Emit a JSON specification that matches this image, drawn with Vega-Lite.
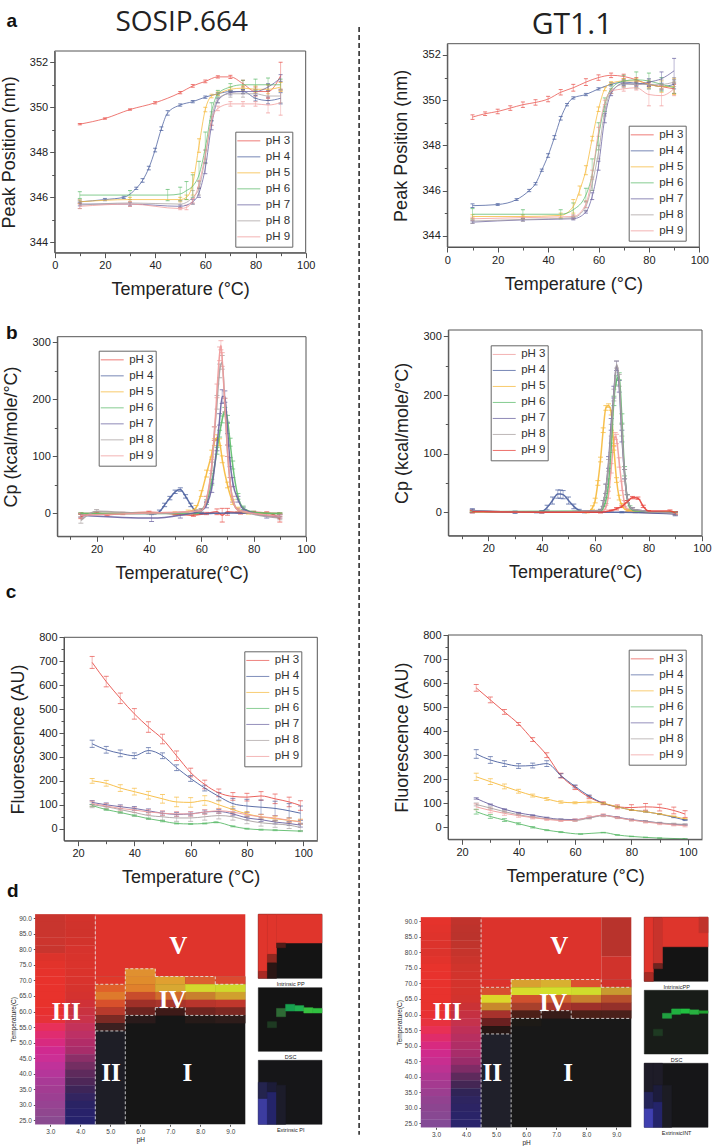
{"$schema":"https://vega.github.io/schema/vega-lite/v6.json","width":714,"height":1146,"padding":0,"autosize":{"type":"none"},"background":"white",
"config":{"view":{"stroke":null},"range":{"category":["#e8504a","#4a5f9e","#f6b93b","#5dbb6c","#6a62a0","#a8a0a0","#f09a9a"]},
"axis":{"grid":false,"labelOverlap":false,"labelFlush":false,"labelFont":"Liberation Sans","labelFontSize":11,"labelColor":"#222","titleFont":"Liberation Sans","titleFontSize":18,"titleFontWeight":"normal","titleColor":"#222","domainColor":"#555","tickColor":"#555","labelPadding":2},"axisX":{"titlePadding":10},"axisY":{"titlePadding":11},
"legend":{"symbolType":"stroke","symbolSize":529,"clipHeight":15.3,"rowPadding":0,"labelFont":"Liberation Sans","labelFontSize":11.5,"labelColor":"#333","strokeColor":"#666","fillColor":"white","padding":1.5,"labelOffset":5,"symbolStrokeWidth":1,"title":null}},
"resolve":{"scale":{"x":"independent","y":"independent","color":"independent"},"axis":{"x":"independent","y":"independent"},"legend":{"color":"independent"}},
"layer":[
{"data":{"values":[
{"p":3,"t":10,"v":349.25,"e":0.03},{"p":3,"t":20,"v":349.5,"e":0.03},{"p":3,"t":30,"v":349.9,"e":0.03},{"p":3,"t":40,"v":350.2,"e":0.05},{"p":3,"t":50,"v":350.65,"e":0.05},{"p":3,"t":55,"v":350.95,"e":0.06},{"p":3,"t":60,"v":351.15,"e":0.06},{"p":3,"t":65,"v":351.35,"e":0.05},{"p":3,"t":70,"v":351.35,"e":0.07},{"p":3,"t":75,"v":351.05,"e":0.15},{"p":3,"t":80,"v":350.7,"e":0.2},{"p":3,"t":85,"v":350.7,"e":0.3},{"p":3,"t":90,"v":351.4,"e":0.6},
{"p":4,"t":10,"v":345.8,"e":0.08},{"p":4,"t":20,"v":345.9,"e":0.05},{"p":4,"t":27.5,"v":346,"e":0.05},{"p":4,"t":32.5,"v":346.4,"e":0.05},{"p":4,"t":35,"v":346.75,"e":0.08},{"p":4,"t":37.5,"v":347.3,"e":0.08},{"p":4,"t":40,"v":348.1,"e":0.08},{"p":4,"t":42.5,"v":349.05,"e":0.08},{"p":4,"t":45,"v":349.75,"e":0.1},{"p":4,"t":50,"v":350.1,"e":0.05},{"p":4,"t":55,"v":350.25,"e":0.05},{"p":4,"t":60,"v":350.45,"e":0.05},{"p":4,"t":65,"v":350.6,"e":0.05},{"p":4,"t":70,"v":350.7,"e":0.05},{"p":4,"t":75,"v":350.7,"e":0.08},{"p":4,"t":80,"v":350.4,"e":0.12},{"p":4,"t":85,"v":350.3,"e":0.15},{"p":4,"t":90,"v":350.4,"e":0.25},
{"p":5,"t":10,"v":345.8,"e":0.08},{"p":5,"t":30,"v":345.9,"e":0.1},{"p":5,"t":50,"v":345.9,"e":0.1},{"p":5,"t":52.5,"v":346,"e":0.1},{"p":5,"t":55,"v":346.6,"e":0.5},{"p":5,"t":57.5,"v":348.3,"e":0.3},{"p":5,"t":60,"v":349.9,"e":0.1},{"p":5,"t":62.5,"v":350.5,"e":0.08},{"p":5,"t":65,"v":350.6,"e":0.08},{"p":5,"t":70,"v":350.8,"e":0.1},{"p":5,"t":75,"v":350.85,"e":0.1},{"p":5,"t":80,"v":350.8,"e":0.15},{"p":5,"t":85,"v":350.8,"e":0.2},{"p":5,"t":90,"v":350.9,"e":0.2},
{"p":6,"t":10,"v":346.1,"e":0.15},{"p":6,"t":30,"v":346.1,"e":0.2},{"p":6,"t":45,"v":346.1,"e":0.25},{"p":6,"t":50,"v":346.15,"e":0.3},{"p":6,"t":52.5,"v":346.3,"e":0.4},{"p":6,"t":55,"v":346.5,"e":0.5},{"p":6,"t":57.5,"v":347,"e":0.6},{"p":6,"t":60,"v":348.2,"e":0.7},{"p":6,"t":62.5,"v":349.8,"e":0.4},{"p":6,"t":65,"v":350.6,"e":0.15},{"p":6,"t":70,"v":350.9,"e":0.15},{"p":6,"t":75,"v":351,"e":0.2},{"p":6,"t":80,"v":351,"e":0.25},{"p":6,"t":85,"v":351,"e":0.3},{"p":6,"t":90,"v":351,"e":0.25},
{"p":7,"t":10,"v":345.7,"e":0.08},{"p":7,"t":30,"v":345.7,"e":0.08},{"p":7,"t":50,"v":345.6,"e":0.06},{"p":7,"t":55,"v":345.8,"e":0.1},{"p":7,"t":57.5,"v":346.2,"e":0.2},{"p":7,"t":60,"v":347.3,"e":0.25},{"p":7,"t":62.5,"v":349.2,"e":0.2},{"p":7,"t":65,"v":350.3,"e":0.1},{"p":7,"t":70,"v":350.65,"e":0.1},{"p":7,"t":75,"v":350.7,"e":0.1},{"p":7,"t":80,"v":350.7,"e":0.1},{"p":7,"t":85,"v":350.9,"e":0.15},{"p":7,"t":90,"v":351.3,"e":0.15},
{"p":8,"t":10,"v":345.65,"e":0.15},{"p":8,"t":30,"v":345.75,"e":0.15},{"p":8,"t":50,"v":345.7,"e":0.15},{"p":8,"t":55,"v":346,"e":0.3},{"p":8,"t":57.5,"v":346.4,"e":0.3},{"p":8,"t":60,"v":347.8,"e":0.3},{"p":8,"t":62.5,"v":349.5,"e":0.3},{"p":8,"t":65,"v":350.4,"e":0.2},{"p":8,"t":70,"v":350.6,"e":0.15},{"p":8,"t":75,"v":350.6,"e":0.15},{"p":8,"t":80,"v":350.6,"e":0.2},{"p":8,"t":85,"v":350.5,"e":0.2},{"p":8,"t":90,"v":350.5,"e":0.3},
{"p":9,"t":10,"v":345.6,"e":0.1},{"p":9,"t":30,"v":345.7,"e":0.1},{"p":9,"t":50,"v":345.5,"e":0.05},{"p":9,"t":52.5,"v":345.55,"e":0.1},{"p":9,"t":55,"v":345.85,"e":0.1},{"p":9,"t":57.5,"v":346.6,"e":0.15},{"p":9,"t":60,"v":347.9,"e":0.2},{"p":9,"t":62.5,"v":349.4,"e":0.2},{"p":9,"t":65,"v":349.95,"e":0.1},{"p":9,"t":70,"v":350.15,"e":0.1},{"p":9,"t":75,"v":350.15,"e":0.1},{"p":9,"t":80,"v":350.15,"e":0.1},{"p":9,"t":85,"v":350.1,"e":0.35},{"p":9,"t":90,"v":350.2,"e":0.55}]},
"encoding":{"x":{"field":"t","type":"quantitative","scale":{"domain":[0,100],"range":[54.7,305.7],"nice":false,"zero":false},"axis":{"orient":"bottom","offset":-893.3,"title":"Temperature (°C)","values":[0,10,20,30,40,50,60,70,80,90,100],"labelExpr":"datum.value%20==0?datum.label:''","tickSize":{"condition":{"test":"datum.value%20==0","value":5},"value":3}}},"y":{"field":"v","type":"quantitative","scale":{"domain":[343.54,352.5],"range":[252.7,51],"nice":false,"zero":false},"axis":{"orient":"left","offset":-54.7,"title":"Peak Position (nm)","format":"d","values":[344,345,346,347,348,349,350,351,352],"labelExpr":"datum.value%2==0?datum.label:''","tickSize":{"condition":{"test":"datum.value%2==0","value":5},"value":3}}}},
"layer":[
{"mark":{"type":"errorbar","ticks":{"size":4,"opacity":0.75},"rule":{"strokeWidth":0.6,"opacity":0.75}},"encoding":{"yError":{"field":"e"},"color":{"field":"p","type":"nominal"}}},
{"mark":{"type":"line","strokeWidth":0.9,"interpolate":"monotone","opacity":0.85},"encoding":{"color":{"field":"p","type":"nominal","legend":{"orient":"none","legendX":235.3,"legendY":131.7,"labelExpr":"'pH '+datum.label"}}}},
{"data":{"values":[{"t":0,"t2":100,"v":343.54,"v2":352.5}]},"mark":{"type":"rect","fill":"transparent","stroke":"#555","strokeWidth":1},"encoding":{"x2":{"field":"t2"},"y2":{"field":"v2"}}},
{"data":{"values":[{"t":50.6,"v":353.74,"s":"SOSIP.664"}]},"mark":{"type":"text","font":"Open Sans","fontSize":28,"color":"#222"},"encoding":{"text":{"field":"s"}}},
{"data":{"values":[{"t":-17.1,"v":353.85,"s":"a"}]},"mark":{"type":"text","font":"Liberation Sans","fontWeight":"bold","fontSize":19,"color":"#111"},"encoding":{"text":{"field":"s"}}}]},
{"data":{"values":[
{"p":3,"t":10,"v":349.25,"e":0.1},{"p":3,"t":15,"v":349.4,"e":0.08},{"p":3,"t":20,"v":349.5,"e":0.1},{"p":3,"t":25,"v":349.65,"e":0.1},{"p":3,"t":30,"v":349.8,"e":0.12},{"p":3,"t":35,"v":349.9,"e":0.12},{"p":3,"t":40,"v":350.05,"e":0.12},{"p":3,"t":45,"v":350.35,"e":0.12},{"p":3,"t":50,"v":350.55,"e":0.15},{"p":3,"t":55,"v":350.8,"e":0.15},{"p":3,"t":60,"v":351,"e":0.12},{"p":3,"t":65,"v":351.1,"e":0.1},{"p":3,"t":70,"v":351.05,"e":0.1},{"p":3,"t":75,"v":350.9,"e":0.1},{"p":3,"t":80,"v":350.7,"e":0.1},{"p":3,"t":85,"v":350.6,"e":0.1},{"p":3,"t":90,"v":350.5,"e":0.2},
{"p":4,"t":10,"v":345.33,"e":0.08},{"p":4,"t":20,"v":345.38,"e":0.04},{"p":4,"t":27.5,"v":345.6,"e":0.04},{"p":4,"t":32.5,"v":346,"e":0.05},{"p":4,"t":35,"v":346.3,"e":0.05},{"p":4,"t":37.5,"v":346.9,"e":0.05},{"p":4,"t":40,"v":347.55,"e":0.08},{"p":4,"t":42.5,"v":348.35,"e":0.08},{"p":4,"t":45,"v":349.2,"e":0.08},{"p":4,"t":47.5,"v":349.8,"e":0.05},{"p":4,"t":50,"v":350.1,"e":0.05},{"p":4,"t":55,"v":350.25,"e":0.05},{"p":4,"t":60,"v":350.5,"e":0.05},{"p":4,"t":65,"v":350.7,"e":0.07},{"p":4,"t":70,"v":350.8,"e":0.1},{"p":4,"t":75,"v":350.75,"e":0.1},{"p":4,"t":80,"v":350.7,"e":0.1},{"p":4,"t":85,"v":350.6,"e":0.15},{"p":4,"t":90,"v":350.7,"e":0.2},
{"p":5,"t":10,"v":344.85,"e":0.08},{"p":5,"t":30,"v":344.85,"e":0.08},{"p":5,"t":45,"v":344.9,"e":0.1},{"p":5,"t":50,"v":345.3,"e":0.3},{"p":5,"t":52.5,"v":346,"e":0.2},{"p":5,"t":55,"v":346.9,"e":0.2},{"p":5,"t":57.5,"v":348.3,"e":0.1},{"p":5,"t":60,"v":349.6,"e":0.1},{"p":5,"t":62.5,"v":350.5,"e":0.08},{"p":5,"t":65,"v":350.75,"e":0.07},{"p":5,"t":70,"v":350.85,"e":0.1},{"p":5,"t":75,"v":350.85,"e":0.1},{"p":5,"t":80,"v":350.7,"e":0.15},{"p":5,"t":85,"v":350.6,"e":0.25},{"p":5,"t":90,"v":350.6,"e":0.35},
{"p":6,"t":10,"v":344.95,"e":0.25},{"p":6,"t":30,"v":344.95,"e":0.2},{"p":6,"t":45,"v":344.95,"e":0.2},{"p":6,"t":50,"v":345.15,"e":0.3},{"p":6,"t":55,"v":345.8,"e":0.3},{"p":6,"t":57.5,"v":346.7,"e":0.7},{"p":6,"t":60,"v":348.4,"e":0.6},{"p":6,"t":62.5,"v":349.8,"e":0.3},{"p":6,"t":65,"v":350.5,"e":0.2},{"p":6,"t":70,"v":350.85,"e":0.25},{"p":6,"t":75,"v":350.9,"e":0.35},{"p":6,"t":80,"v":350.85,"e":0.35},{"p":6,"t":85,"v":350.7,"e":0.3},{"p":6,"t":90,"v":350.55,"e":0.25},
{"p":7,"t":10,"v":344.6,"e":0.05},{"p":7,"t":30,"v":344.7,"e":0.05},{"p":7,"t":50,"v":344.75,"e":0.05},{"p":7,"t":55,"v":345.05,"e":0.05},{"p":7,"t":57.5,"v":345.75,"e":0.15},{"p":7,"t":60,"v":347.1,"e":0.2},{"p":7,"t":62.5,"v":349.2,"e":0.2},{"p":7,"t":65,"v":350.3,"e":0.1},{"p":7,"t":70,"v":350.75,"e":0.1},{"p":7,"t":75,"v":350.7,"e":0.1},{"p":7,"t":80,"v":350.8,"e":0.15},{"p":7,"t":85,"v":350.95,"e":0.3},{"p":7,"t":90,"v":351.3,"e":0.55},
{"p":8,"t":10,"v":344.65,"e":0.1},{"p":8,"t":30,"v":344.72,"e":0.08},{"p":8,"t":50,"v":344.8,"e":0.08},{"p":8,"t":55,"v":345.3,"e":0.2},{"p":8,"t":57.5,"v":346.3,"e":0.3},{"p":8,"t":60,"v":347.7,"e":0.3},{"p":8,"t":62.5,"v":349.5,"e":0.2},{"p":8,"t":65,"v":350.4,"e":0.1},{"p":8,"t":70,"v":350.7,"e":0.15},{"p":8,"t":75,"v":350.7,"e":0.2},{"p":8,"t":80,"v":350.7,"e":0.2},{"p":8,"t":85,"v":350.7,"e":0.2},{"p":8,"t":90,"v":350.8,"e":0.2},
{"p":9,"t":10,"v":344.75,"e":0.07},{"p":9,"t":30,"v":344.8,"e":0.07},{"p":9,"t":50,"v":344.85,"e":0.08},{"p":9,"t":55,"v":345.4,"e":0.15},{"p":9,"t":57.5,"v":346.7,"e":0.2},{"p":9,"t":60,"v":348.6,"e":0.2},{"p":9,"t":62.5,"v":349.9,"e":0.1},{"p":9,"t":65,"v":350.4,"e":0.1},{"p":9,"t":70,"v":350.5,"e":0.1},{"p":9,"t":75,"v":350.55,"e":0.1},{"p":9,"t":80,"v":350.25,"e":0.5},{"p":9,"t":85,"v":350.2,"e":0.45},{"p":9,"t":90,"v":350.5,"e":0.3}]},
"encoding":{"x":{"field":"t","type":"quantitative","scale":{"domain":[0,100],"range":[447.3,699.3],"nice":false,"zero":false},"axis":{"orient":"bottom","offset":-899,"title":"Temperature (°C)","values":[0,10,20,30,40,50,60,70,80,90,100],"labelExpr":"datum.value%20==0?datum.label:''","tickSize":{"condition":{"test":"datum.value%20==0","value":5},"value":3}}},"y":{"field":"v","type":"quantitative","scale":{"domain":[343.5,352.5],"range":[247,43.7],"nice":false,"zero":false},"axis":{"orient":"left","offset":-447.3,"title":"Peak Position (nm)","format":"d","values":[344,345,346,347,348,349,350,351,352],"labelExpr":"datum.value%2==0?datum.label:''","tickSize":{"condition":{"test":"datum.value%2==0","value":5},"value":3}}}},
"layer":[
{"mark":{"type":"errorbar","ticks":{"size":4,"opacity":0.75},"rule":{"strokeWidth":0.6,"opacity":0.75}},"encoding":{"yError":{"field":"e"},"color":{"field":"p","type":"nominal"}}},
{"mark":{"type":"line","strokeWidth":0.9,"interpolate":"monotone","opacity":0.85},"encoding":{"color":{"field":"p","type":"nominal","legend":{"orient":"none","legendX":628.7,"legendY":125.7,"labelExpr":"'pH '+datum.label"}}}},
{"data":{"values":[{"t":0,"t2":100,"v":343.5,"v2":352.5}]},"mark":{"type":"rect","fill":"transparent","stroke":"#555","strokeWidth":1},"encoding":{"x2":{"field":"t2"},"y2":{"field":"v2"}}},
{"data":{"values":[{"t":49.5,"v":353.33,"s":"GT1.1"}]},"mark":{"type":"text","font":"Open Sans","fontSize":30,"color":"#222"},"encoding":{"text":{"field":"s"}}},
{"data":{"values":[{"t":-35,"v":353.24,"v2":304.2}]},"mark":{"type":"rule","stroke":"#111","strokeWidth":1.4,"strokeDash":[5,3]},"encoding":{"y2":{"field":"v2"}}}]},
{"data":{"values":[
{"p":3,"t":14,"v":-5,"e":4},{"p":3,"t":20,"v":1,"e":2},{"p":3,"t":24,"v":-2,"e":2},{"p":3,"t":30,"v":0,"e":2},{"p":3,"t":40,"v":2,"e":2},{"p":3,"t":50,"v":-1,"e":2},{"p":3,"t":57,"v":-3,"e":2},{"p":3,"t":62,"v":0,"e":2},{"p":3,"t":66,"v":3,"e":5},{"p":3,"t":68,"v":-3,"e":12},{"p":3,"t":70,"v":3,"e":6},{"p":3,"t":75,"v":1,"e":2},{"p":3,"t":80,"v":2,"e":2},{"p":3,"t":85,"v":1,"e":2},{"p":3,"t":88,"v":-3,"e":3},{"p":3,"t":90,"v":-10,"e":5},
{"p":4,"t":14,"v":0,"e":1},{"p":4,"t":42,"v":0,"e":1},{"p":4,"t":44,"v":3,"e":3},{"p":4,"t":46,"v":15,"e":3},{"p":4,"t":48,"v":27,"e":3},{"p":4,"t":50,"v":38,"e":3},{"p":4,"t":52,"v":42,"e":3},{"p":4,"t":54,"v":30,"e":3},{"p":4,"t":56,"v":15,"e":3},{"p":4,"t":58,"v":3,"e":3},{"p":4,"t":60,"v":0,"e":1},{"p":4,"t":70,"v":1,"e":1},{"p":4,"t":90,"v":0,"e":1},
{"p":5,"t":14,"v":0,"e":1},{"p":5,"t":50,"v":1,"e":2},{"p":5,"t":55,"v":3,"e":3},{"p":5,"t":58,"v":10,"e":4},{"p":5,"t":60,"v":35,"e":5},{"p":5,"t":62,"v":70,"e":6},{"p":5,"t":64,"v":105,"e":6},{"p":5,"t":65,"v":125,"e":6},{"p":5,"t":66,"v":133,"e":5},{"p":5,"t":67,"v":125,"e":6},{"p":5,"t":68,"v":95,"e":6},{"p":5,"t":70,"v":50,"e":5},{"p":5,"t":72,"v":20,"e":4},{"p":5,"t":74,"v":7,"e":4},{"p":5,"t":78,"v":1,"e":2},{"p":5,"t":90,"v":0,"e":1},
{"p":6,"t":14,"v":0,"e":1},{"p":6,"t":58,"v":0,"e":1},{"p":6,"t":60,"v":5,"e":3},{"p":6,"t":62,"v":20,"e":4},{"p":6,"t":64,"v":55,"e":5},{"p":6,"t":66,"v":110,"e":6},{"p":6,"t":67,"v":140,"e":6},{"p":6,"t":68,"v":165,"e":6},{"p":6,"t":69,"v":180,"e":6},{"p":6,"t":70,"v":165,"e":7},{"p":6,"t":71,"v":125,"e":7},{"p":6,"t":72,"v":85,"e":7},{"p":6,"t":74,"v":30,"e":5},{"p":6,"t":76,"v":10,"e":3},{"p":6,"t":80,"v":2,"e":2},{"p":6,"t":90,"v":0,"e":1},
{"p":7,"t":14,"v":-3,"e":3},{"p":7,"t":41,"v":-8,"e":6},{"p":7,"t":52,"v":-3,"e":5},{"p":7,"t":60,"v":5,"e":3},{"p":7,"t":62,"v":15,"e":5},{"p":7,"t":64,"v":45,"e":8},{"p":7,"t":66,"v":120,"e":10},{"p":7,"t":67,"v":165,"e":10},{"p":7,"t":68,"v":205,"e":12},{"p":7,"t":69,"v":205,"e":10},{"p":7,"t":70,"v":150,"e":10},{"p":7,"t":71,"v":90,"e":8},{"p":7,"t":72,"v":55,"e":8},{"p":7,"t":74,"v":25,"e":5},{"p":7,"t":76,"v":8,"e":3},{"p":7,"t":85,"v":-4,"e":4},{"p":7,"t":90,"v":-5,"e":3},
{"p":8,"t":14,"v":-12,"e":5},{"p":8,"t":20,"v":4,"e":3},{"p":8,"t":40,"v":0,"e":1},{"p":8,"t":60,"v":5,"e":3},{"p":8,"t":62,"v":25,"e":5},{"p":8,"t":64,"v":80,"e":10},{"p":8,"t":65,"v":140,"e":12},{"p":8,"t":66,"v":195,"e":12},{"p":8,"t":67,"v":250,"e":12},{"p":8,"t":68,"v":265,"e":12},{"p":8,"t":69,"v":190,"e":12},{"p":8,"t":70,"v":110,"e":10},{"p":8,"t":71,"v":55,"e":8},{"p":8,"t":72,"v":25,"e":5},{"p":8,"t":74,"v":6,"e":3},{"p":8,"t":90,"v":-8,"e":3},
{"p":9,"t":14,"v":-3,"e":3},{"p":9,"t":40,"v":1,"e":1},{"p":9,"t":60,"v":5,"e":3},{"p":9,"t":62,"v":25,"e":5},{"p":9,"t":64,"v":85,"e":10},{"p":9,"t":65,"v":140,"e":12},{"p":9,"t":66,"v":215,"e":12},{"p":9,"t":67,"v":280,"e":12},{"p":9,"t":67.5,"v":295,"e":8},{"p":9,"t":68,"v":270,"e":12},{"p":9,"t":69,"v":190,"e":12},{"p":9,"t":70,"v":110,"e":10},{"p":9,"t":71,"v":55,"e":8},{"p":9,"t":72,"v":25,"e":5},{"p":9,"t":74,"v":6,"e":3},{"p":9,"t":90,"v":-5,"e":3}]},
"encoding":{"x":{"field":"t","type":"quantitative","scale":{"domain":[5,100],"range":[57.3,306],"nice":false,"zero":false},"axis":{"orient":"bottom","offset":-609.7,"title":"Temperature(°C)","values":[10,20,30,40,50,60,70,80,90,100],"labelExpr":"datum.value%20==0?datum.label:''","tickSize":{"condition":{"test":"datum.value%20==0","value":5},"value":3}}},"y":{"field":"v","type":"quantitative","scale":{"domain":[-40,310],"range":[536.3,336.7],"nice":false,"zero":false},"axis":{"orient":"left","offset":-57.3,"title":"Cp (kcal/mole/°C)","values":[0,50,100,150,200,250,300],"labelExpr":"datum.value%100==0?datum.label:''","tickSize":{"condition":{"test":"datum.value%100==0","value":5},"value":3}}}},
"layer":[
{"mark":{"type":"errorbar","ticks":{"size":5,"opacity":0.75},"rule":{"strokeWidth":0.6,"opacity":0.75}},"encoding":{"yError":{"field":"e"},"color":{"field":"p","type":"nominal"}}},
{"mark":{"type":"line","strokeWidth":1.5,"interpolate":"monotone","opacity":0.9},"encoding":{"color":{"field":"p","type":"nominal","legend":{"orient":"none","legendX":98.7,"legendY":350.7,"labelExpr":"'pH '+datum.label"}}}},
{"data":{"values":[{"t":5,"t2":100,"v":-40,"v2":310}]},"mark":{"type":"rect","fill":"transparent","stroke":"#555","strokeWidth":1},"encoding":{"x2":{"field":"t2"},"y2":{"field":"v2"}}},
{"data":{"values":[{"t":-12.4,"v":316,"s":"b"}]},"mark":{"type":"text","font":"Liberation Sans","fontWeight":"bold","fontSize":19,"color":"#111"},"encoding":{"text":{"field":"s"}}}]},
{"data":{"values":[
{"p":3,"t":14,"v":2,"e":2},{"p":3,"t":40,"v":0,"e":1},{"p":3,"t":62,"v":0,"e":1},{"p":3,"t":64,"v":8,"e":4},{"p":3,"t":65,"v":30,"e":6},{"p":3,"t":66,"v":75,"e":8},{"p":3,"t":67,"v":120,"e":8},{"p":3,"t":67.5,"v":130,"e":6},{"p":3,"t":68,"v":125,"e":8},{"p":3,"t":69,"v":85,"e":8},{"p":3,"t":70,"v":45,"e":8},{"p":3,"t":71,"v":15,"e":5},{"p":3,"t":72,"v":4,"e":3},{"p":3,"t":75,"v":0,"e":1},{"p":3,"t":90,"v":-2,"e":2},
{"p":4,"t":14,"v":3,"e":3},{"p":4,"t":30,"v":0,"e":2},{"p":4,"t":38,"v":0,"e":1},{"p":4,"t":40,"v":1,"e":2},{"p":4,"t":42,"v":8,"e":4},{"p":4,"t":44,"v":20,"e":6},{"p":4,"t":46,"v":31,"e":7},{"p":4,"t":47,"v":31,"e":7},{"p":4,"t":48,"v":30,"e":7},{"p":4,"t":50,"v":20,"e":6},{"p":4,"t":52,"v":10,"e":4},{"p":4,"t":54,"v":3,"e":2},{"p":4,"t":56,"v":0,"e":1},{"p":4,"t":70,"v":0,"e":1},{"p":4,"t":90,"v":-3,"e":3},
{"p":5,"t":14,"v":1,"e":1},{"p":5,"t":57,"v":0,"e":1},{"p":5,"t":59,"v":8,"e":3},{"p":5,"t":60,"v":20,"e":4},{"p":5,"t":61,"v":50,"e":4},{"p":5,"t":62,"v":90,"e":4},{"p":5,"t":63,"v":140,"e":4},{"p":5,"t":64,"v":178,"e":4},{"p":5,"t":65,"v":182,"e":3},{"p":5,"t":66,"v":170,"e":4},{"p":5,"t":67,"v":110,"e":4},{"p":5,"t":68,"v":55,"e":4},{"p":5,"t":69,"v":25,"e":4},{"p":5,"t":70,"v":12,"e":3},{"p":5,"t":72,"v":3,"e":2},{"p":5,"t":90,"v":0,"e":1},
{"p":6,"t":14,"v":1,"e":1},{"p":6,"t":62,"v":2,"e":2},{"p":6,"t":64,"v":20,"e":5},{"p":6,"t":65,"v":50,"e":7},{"p":6,"t":66,"v":110,"e":8},{"p":6,"t":67,"v":190,"e":8},{"p":6,"t":68,"v":225,"e":8},{"p":6,"t":69,"v":232,"e":6},{"p":6,"t":70,"v":160,"e":8},{"p":6,"t":71,"v":70,"e":8},{"p":6,"t":72,"v":25,"e":5},{"p":6,"t":73,"v":8,"e":3},{"p":6,"t":75,"v":2,"e":2},{"p":6,"t":90,"v":0,"e":1},
{"p":7,"t":14,"v":2,"e":3},{"p":7,"t":40,"v":0,"e":1},{"p":7,"t":62,"v":3,"e":2},{"p":7,"t":63,"v":15,"e":5},{"p":7,"t":64,"v":40,"e":8},{"p":7,"t":65,"v":85,"e":10},{"p":7,"t":66,"v":150,"e":10},{"p":7,"t":67,"v":205,"e":10},{"p":7,"t":68,"v":250,"e":8},{"p":7,"t":69,"v":215,"e":10},{"p":7,"t":70,"v":130,"e":10},{"p":7,"t":71,"v":65,"e":8},{"p":7,"t":72,"v":25,"e":5},{"p":7,"t":74,"v":5,"e":3},{"p":7,"t":90,"v":-2,"e":3},
{"p":8,"t":14,"v":2,"e":2},{"p":8,"t":40,"v":0,"e":1},{"p":8,"t":62,"v":3,"e":2},{"p":8,"t":63,"v":15,"e":5},{"p":8,"t":64,"v":40,"e":8},{"p":8,"t":65,"v":80,"e":10},{"p":8,"t":66,"v":140,"e":10},{"p":8,"t":67,"v":200,"e":10},{"p":8,"t":68,"v":252,"e":6},{"p":8,"t":69,"v":225,"e":10},{"p":8,"t":70,"v":140,"e":10},{"p":8,"t":71,"v":65,"e":8},{"p":8,"t":72,"v":25,"e":5},{"p":8,"t":74,"v":5,"e":3},{"p":8,"t":90,"v":-2,"e":3},
{"p":9,"t":14,"v":1,"e":2},{"p":9,"t":40,"v":0,"e":1},{"p":9,"t":62,"v":0,"e":1},{"p":9,"t":66,"v":3,"e":1},{"p":9,"t":68,"v":6,"e":2},{"p":9,"t":70,"v":10,"e":2},{"p":9,"t":72,"v":18,"e":2},{"p":9,"t":74,"v":25,"e":2},{"p":9,"t":76,"v":24,"e":2},{"p":9,"t":78,"v":10,"e":2},{"p":9,"t":80,"v":2,"e":1},{"p":9,"t":88,"v":2,"e":2},{"p":9,"t":90,"v":-1,"e":2}]},
"encoding":{"x":{"field":"t","type":"quantitative","scale":{"domain":[5,100],"range":[448.3,702],"nice":false,"zero":false},"axis":{"orient":"bottom","offset":-610.3,"title":"Temperature(°C)","values":[10,20,30,40,50,60,70,80,90,100],"labelExpr":"datum.value%20==0?datum.label:''","tickSize":{"condition":{"test":"datum.value%20==0","value":5},"value":3}}},"y":{"field":"v","type":"quantitative","scale":{"domain":[-40,311],"range":[535.7,330],"nice":false,"zero":false},"axis":{"orient":"left","offset":-448.3,"title":"Cp (kcal/mole/°C)","values":[0,50,100,150,200,250,300],"labelExpr":"datum.value%100==0?datum.label:''","tickSize":{"condition":{"test":"datum.value%100==0","value":5},"value":3}}}},
"layer":[
{"mark":{"type":"errorbar","ticks":{"size":5,"opacity":0.75},"rule":{"strokeWidth":0.6,"opacity":0.75}},"encoding":{"yError":{"field":"e"},"color":{"field":"p","type":"nominal","scale":{"range":["#f09a9a","#4a5f9e","#f6b93b","#5dbb6c","#6a62a0","#a8a0a0","#e8403a"]}}}},
{"mark":{"type":"line","strokeWidth":1.5,"interpolate":"monotone","opacity":0.9},"encoding":{"color":{"field":"p","type":"nominal","legend":{"orient":"none","legendX":490.7,"legendY":345.3,"labelExpr":"'pH '+datum.label"}}}},
{"data":{"values":[{"t":5,"t2":100,"v":-40,"v2":311}]},"mark":{"type":"rect","fill":"transparent","stroke":"#555","strokeWidth":1},"encoding":{"x2":{"field":"t2"},"y2":{"field":"v2"}}}]},
{"data":{"values":[
{"p":3,"t":25,"v":695,"e":25},{"p":3,"t":30,"v":615,"e":22},{"p":3,"t":35,"v":545,"e":22},{"p":3,"t":40,"v":480,"e":22},{"p":3,"t":45,"v":425,"e":22},{"p":3,"t":50,"v":375,"e":20},{"p":3,"t":55,"v":305,"e":20},{"p":3,"t":60,"v":235,"e":18},{"p":3,"t":65,"v":185,"e":18},{"p":3,"t":70,"v":150,"e":16},{"p":3,"t":75,"v":135,"e":16},{"p":3,"t":80,"v":132,"e":16},{"p":3,"t":85,"v":137,"e":18},{"p":3,"t":90,"v":125,"e":20},{"p":3,"t":95,"v":112,"e":20},{"p":3,"t":99,"v":97,"e":20},
{"p":4,"t":25,"v":355,"e":15},{"p":4,"t":30,"v":330,"e":14},{"p":4,"t":35,"v":315,"e":14},{"p":4,"t":40,"v":305,"e":12},{"p":4,"t":45,"v":327,"e":12},{"p":4,"t":50,"v":305,"e":12},{"p":4,"t":55,"v":255,"e":12},{"p":4,"t":60,"v":210,"e":12},{"p":4,"t":65,"v":170,"e":12},{"p":4,"t":70,"v":135,"e":16},{"p":4,"t":75,"v":105,"e":22},{"p":4,"t":80,"v":95,"e":28},{"p":4,"t":85,"v":90,"e":30},{"p":4,"t":90,"v":85,"e":30},{"p":4,"t":95,"v":75,"e":30},{"p":4,"t":99,"v":65,"e":30},
{"p":5,"t":25,"v":200,"e":10},{"p":5,"t":30,"v":190,"e":12},{"p":5,"t":35,"v":170,"e":14},{"p":5,"t":40,"v":155,"e":14},{"p":5,"t":45,"v":140,"e":16},{"p":5,"t":50,"v":125,"e":18},{"p":5,"t":55,"v":112,"e":20},{"p":5,"t":60,"v":110,"e":20},{"p":5,"t":65,"v":118,"e":20},{"p":5,"t":70,"v":100,"e":16},{"p":5,"t":75,"v":80,"e":12},{"p":5,"t":80,"v":62,"e":10},{"p":5,"t":85,"v":50,"e":10},{"p":5,"t":90,"v":42,"e":10},{"p":5,"t":95,"v":35,"e":10},{"p":5,"t":99,"v":30,"e":10},
{"p":6,"t":25,"v":97,"e":4},{"p":6,"t":30,"v":80,"e":3},{"p":6,"t":35,"v":68,"e":3},{"p":6,"t":40,"v":55,"e":3},{"p":6,"t":45,"v":42,"e":3},{"p":6,"t":50,"v":32,"e":3},{"p":6,"t":55,"v":22,"e":2},{"p":6,"t":60,"v":20,"e":2},{"p":6,"t":65,"v":22,"e":2},{"p":6,"t":69,"v":27,"e":2},{"p":6,"t":75,"v":10,"e":2},{"p":6,"t":80,"v":0,"e":2},{"p":6,"t":85,"v":-4,"e":2},{"p":6,"t":90,"v":-6,"e":2},{"p":6,"t":99,"v":-10,"e":2},
{"p":7,"t":25,"v":110,"e":8},{"p":7,"t":30,"v":100,"e":8},{"p":7,"t":35,"v":92,"e":8},{"p":7,"t":40,"v":85,"e":8},{"p":7,"t":45,"v":75,"e":8},{"p":7,"t":50,"v":65,"e":8},{"p":7,"t":55,"v":60,"e":8},{"p":7,"t":60,"v":62,"e":8},{"p":7,"t":65,"v":70,"e":8},{"p":7,"t":70,"v":72,"e":8},{"p":7,"t":75,"v":62,"e":8},{"p":7,"t":80,"v":45,"e":8},{"p":7,"t":85,"v":38,"e":8},{"p":7,"t":90,"v":28,"e":8},{"p":7,"t":95,"v":22,"e":8},{"p":7,"t":99,"v":15,"e":8},
{"p":8,"t":25,"v":100,"e":12},{"p":8,"t":30,"v":92,"e":12},{"p":8,"t":35,"v":80,"e":14},{"p":8,"t":40,"v":68,"e":14},{"p":8,"t":45,"v":55,"e":14},{"p":8,"t":50,"v":50,"e":14},{"p":8,"t":55,"v":45,"e":14},{"p":8,"t":60,"v":45,"e":14},{"p":8,"t":65,"v":50,"e":14},{"p":8,"t":70,"v":55,"e":14},{"p":8,"t":75,"v":50,"e":14},{"p":8,"t":80,"v":35,"e":14},{"p":8,"t":85,"v":25,"e":14},{"p":8,"t":90,"v":20,"e":14},{"p":8,"t":95,"v":15,"e":14},{"p":8,"t":99,"v":5,"e":14},
{"p":9,"t":25,"v":105,"e":10},{"p":9,"t":30,"v":95,"e":10},{"p":9,"t":35,"v":85,"e":10},{"p":9,"t":40,"v":78,"e":10},{"p":9,"t":45,"v":70,"e":10},{"p":9,"t":50,"v":65,"e":10},{"p":9,"t":55,"v":62,"e":10},{"p":9,"t":60,"v":62,"e":10},{"p":9,"t":65,"v":70,"e":10},{"p":9,"t":70,"v":75,"e":10},{"p":9,"t":75,"v":70,"e":10},{"p":9,"t":80,"v":58,"e":10},{"p":9,"t":85,"v":50,"e":10},{"p":9,"t":90,"v":45,"e":10},{"p":9,"t":95,"v":35,"e":10},{"p":9,"t":99,"v":28,"e":10}]},
"encoding":{"x":{"field":"t","type":"quantitative","scale":{"domain":[15,105],"range":[64,317.3],"nice":false,"zero":false},"axis":{"orient":"bottom","offset":-305.3,"title":"Temperature (°C)","values":[20,30,40,50,60,70,80,90,100],"labelExpr":"datum.value%20==0?datum.label:''","tickSize":{"condition":{"test":"datum.value%20==0","value":5},"value":3}}},"y":{"field":"v","type":"quantitative","scale":{"domain":[-50,800],"range":[840.7,637.3],"nice":false,"zero":false},"axis":{"orient":"left","offset":-64,"title":"Fluorescence (AU)","values":[0,50,100,150,200,250,300,350,400,450,500,550,600,650,700,750,800],"labelExpr":"datum.value%100==0?datum.label:''","tickSize":{"condition":{"test":"datum.value%100==0","value":5},"value":3}}}},
"layer":[
{"mark":{"type":"errorbar","ticks":{"size":5,"opacity":0.7},"rule":{"strokeWidth":0.6,"opacity":0.7}},"encoding":{"yError":{"field":"e"},"color":{"field":"p","type":"nominal"}}},
{"mark":{"type":"line","strokeWidth":1,"interpolate":"monotone","opacity":0.9},"encoding":{"color":{"field":"p","type":"nominal","legend":{"orient":"none","legendX":244.3,"legendY":651.3,"labelExpr":"'pH '+datum.label"}}}},
{"data":{"values":[{"t":15,"t2":105,"v":-50,"v2":800}]},"mark":{"type":"rect","fill":"transparent","stroke":"#555","strokeWidth":1},"encoding":{"x2":{"field":"t2"},"y2":{"field":"v2"}}},
{"data":{"values":[{"t":-3.8,"v":989,"s":"c"}]},"mark":{"type":"text","font":"Liberation Sans","fontWeight":"bold","fontSize":19,"color":"#111"},"encoding":{"text":{"field":"s"}}}]},
{"data":{"values":[
{"p":3,"t":25,"v":580,"e":14},{"p":3,"t":30,"v":530,"e":12},{"p":3,"t":35,"v":480,"e":10},{"p":3,"t":40,"v":430,"e":6},{"p":3,"t":45,"v":365,"e":8},{"p":3,"t":50,"v":300,"e":10},{"p":3,"t":55,"v":215,"e":10},{"p":3,"t":60,"v":165,"e":8},{"p":3,"t":65,"v":125,"e":6},{"p":3,"t":70,"v":100,"e":6},{"p":3,"t":75,"v":85,"e":8},{"p":3,"t":80,"v":82,"e":12},{"p":3,"t":85,"v":85,"e":14},{"p":3,"t":90,"v":82,"e":14},{"p":3,"t":95,"v":70,"e":14},{"p":3,"t":99,"v":55,"e":14},
{"p":4,"t":25,"v":305,"e":18},{"p":4,"t":30,"v":280,"e":14},{"p":4,"t":35,"v":265,"e":12},{"p":4,"t":40,"v":255,"e":10},{"p":4,"t":45,"v":257,"e":10},{"p":4,"t":50,"v":265,"e":12},{"p":4,"t":55,"v":215,"e":8},{"p":4,"t":60,"v":170,"e":6},{"p":4,"t":65,"v":130,"e":4},{"p":4,"t":70,"v":100,"e":3},{"p":4,"t":75,"v":85,"e":2},{"p":4,"t":80,"v":72,"e":2},{"p":4,"t":85,"v":65,"e":2},{"p":4,"t":90,"v":55,"e":2},{"p":4,"t":95,"v":42,"e":2},{"p":4,"t":99,"v":30,"e":2},
{"p":5,"t":25,"v":210,"e":15},{"p":5,"t":30,"v":190,"e":12},{"p":5,"t":35,"v":170,"e":10},{"p":5,"t":40,"v":150,"e":8},{"p":5,"t":45,"v":132,"e":6},{"p":5,"t":50,"v":118,"e":6},{"p":5,"t":55,"v":105,"e":5},{"p":5,"t":60,"v":102,"e":4},{"p":5,"t":65,"v":105,"e":4},{"p":5,"t":70,"v":100,"e":3},{"p":5,"t":75,"v":85,"e":3},{"p":5,"t":80,"v":72,"e":2},{"p":5,"t":85,"v":65,"e":2},{"p":5,"t":90,"v":55,"e":2},{"p":5,"t":95,"v":45,"e":2},{"p":5,"t":99,"v":35,"e":2},
{"p":6,"t":25,"v":65,"e":10},{"p":6,"t":30,"v":45,"e":8},{"p":6,"t":35,"v":30,"e":6},{"p":6,"t":40,"v":15,"e":4},{"p":6,"t":45,"v":0,"e":3},{"p":6,"t":50,"v":-12,"e":2},{"p":6,"t":55,"v":-20,"e":2},{"p":6,"t":62,"v":-28,"e":1},{"p":6,"t":70,"v":-22,"e":1},{"p":6,"t":75,"v":-32,"e":1},{"p":6,"t":80,"v":-38,"e":1},{"p":6,"t":85,"v":-42,"e":1},{"p":6,"t":90,"v":-45,"e":1},{"p":6,"t":99,"v":-48,"e":1},
{"p":7,"t":25,"v":120,"e":3},{"p":7,"t":30,"v":95,"e":2},{"p":7,"t":35,"v":75,"e":2},{"p":7,"t":40,"v":60,"e":2},{"p":7,"t":45,"v":50,"e":2},{"p":7,"t":50,"v":40,"e":2},{"p":7,"t":55,"v":33,"e":2},{"p":7,"t":60,"v":32,"e":2},{"p":7,"t":65,"v":40,"e":2},{"p":7,"t":70,"v":50,"e":2},{"p":7,"t":75,"v":42,"e":2},{"p":7,"t":80,"v":32,"e":2},{"p":7,"t":85,"v":25,"e":2},{"p":7,"t":90,"v":18,"e":2},{"p":7,"t":95,"v":12,"e":2},{"p":7,"t":99,"v":10,"e":2},
{"p":8,"t":25,"v":95,"e":6},{"p":8,"t":30,"v":80,"e":5},{"p":8,"t":35,"v":65,"e":4},{"p":8,"t":40,"v":52,"e":3},{"p":8,"t":45,"v":42,"e":3},{"p":8,"t":50,"v":35,"e":3},{"p":8,"t":55,"v":30,"e":3},{"p":8,"t":60,"v":28,"e":3},{"p":8,"t":65,"v":38,"e":3},{"p":8,"t":70,"v":48,"e":3},{"p":8,"t":75,"v":40,"e":3},{"p":8,"t":80,"v":30,"e":3},{"p":8,"t":85,"v":24,"e":3},{"p":8,"t":90,"v":18,"e":3},{"p":8,"t":95,"v":14,"e":3},{"p":8,"t":99,"v":12,"e":3},
{"p":9,"t":25,"v":85,"e":12},{"p":9,"t":30,"v":70,"e":10},{"p":9,"t":35,"v":58,"e":8},{"p":9,"t":40,"v":48,"e":6},{"p":9,"t":45,"v":40,"e":5},{"p":9,"t":50,"v":33,"e":4},{"p":9,"t":55,"v":28,"e":4},{"p":9,"t":60,"v":30,"e":5},{"p":9,"t":65,"v":42,"e":6},{"p":9,"t":70,"v":50,"e":6},{"p":9,"t":75,"v":40,"e":4},{"p":9,"t":80,"v":30,"e":4},{"p":9,"t":85,"v":22,"e":4},{"p":9,"t":90,"v":15,"e":4},{"p":9,"t":95,"v":10,"e":4},{"p":9,"t":99,"v":6,"e":4}]},
"encoding":{"x":{"field":"t","type":"quantitative","scale":{"domain":[15,105],"range":[448,702],"nice":false,"zero":false},"axis":{"orient":"bottom","offset":-306.7,"title":"Temperature (°C)","values":[20,30,40,50,60,70,80,90,100],"labelExpr":"datum.value%20==0?datum.label:''","tickSize":{"condition":{"test":"datum.value%20==0","value":5},"value":3}}},"y":{"field":"v","type":"quantitative","scale":{"domain":[-50,800],"range":[839.3,635],"nice":false,"zero":false},"axis":{"orient":"left","offset":-448,"title":"Fluorescence (AU)","values":[0,50,100,150,200,250,300,350,400,450,500,550,600,650,700,750,800],"labelExpr":"datum.value%100==0?datum.label:''","tickSize":{"condition":{"test":"datum.value%100==0","value":5},"value":3}}}},
"layer":[
{"mark":{"type":"errorbar","ticks":{"size":5,"opacity":0.7},"rule":{"strokeWidth":0.6,"opacity":0.7}},"encoding":{"yError":{"field":"e"},"color":{"field":"p","type":"nominal"}}},
{"mark":{"type":"line","strokeWidth":1,"interpolate":"monotone","opacity":0.9},"encoding":{"color":{"field":"p","type":"nominal","legend":{"orient":"none","legendX":628.7,"legendY":649.7,"labelExpr":"'pH '+datum.label"}}}},
{"data":{"values":[{"t":15,"t2":105,"v":-50,"v2":800}]},"mark":{"type":"rect","fill":"transparent","stroke":"#555","strokeWidth":1},"encoding":{"x2":{"field":"t2"},"y2":{"field":"v2"}}}]},
{"data":{"values":[
{"p":3,"t":90,"c":"#c8352e"},{"p":3,"t":87.5,"c":"#c8352e"},{"p":3,"t":85,"c":"#ca352e"},{"p":3,"t":82.5,"c":"#cc352e"},{"p":3,"t":80,"c":"#c8352e"},{"p":3,"t":77.5,"c":"#dc332b"},{"p":3,"t":75,"c":"#e2332b"},{"p":3,"t":72.5,"c":"#e6322c"},{"p":3,"t":70,"c":"#e8322c"},{"p":3,"t":67.5,"c":"#e8322c"},{"p":3,"t":65,"c":"#e8322c"},{"p":3,"t":62.5,"c":"#e8322c"},{"p":3,"t":60,"c":"#e83030"},{"p":3,"t":57.5,"c":"#e63238"},{"p":3,"t":55,"c":"#e8305a"},{"p":3,"t":52.5,"c":"#e02c70"},{"p":3,"t":50,"c":"#d82a80"},{"p":3,"t":47.5,"c":"#d02a90"},{"p":3,"t":45,"c":"#cc2f95"},{"p":3,"t":42.5,"c":"#c0329a"},{"p":3,"t":40,"c":"#b5369a"},{"p":3,"t":37.5,"c":"#a93a96"},{"p":3,"t":35,"c":"#a33c92"},{"p":3,"t":32.5,"c":"#9c3f92"},{"p":3,"t":30,"c":"#974392"},{"p":3,"t":27.5,"c":"#90478f"},{"p":3,"t":25,"c":"#8a4a90"},
{"p":4,"t":90,"c":"#d2332c"},{"p":4,"t":87.5,"c":"#d0332c"},{"p":4,"t":85,"c":"#cf332c"},{"p":4,"t":82.5,"c":"#d2332c"},{"p":4,"t":80,"c":"#d6332d"},{"p":4,"t":77.5,"c":"#d8332c"},{"p":4,"t":75,"c":"#da332c"},{"p":4,"t":72.5,"c":"#da332c"},{"p":4,"t":70,"c":"#d9332d"},{"p":4,"t":67.5,"c":"#d6332d"},{"p":4,"t":65,"c":"#d4322f"},{"p":4,"t":62.5,"c":"#cf3137"},{"p":4,"t":60,"c":"#c93240"},{"p":4,"t":57.5,"c":"#c9334a"},{"p":4,"t":55,"c":"#c4325a"},{"p":4,"t":52.5,"c":"#bd3065"},{"p":4,"t":50,"c":"#b22c68"},{"p":4,"t":47.5,"c":"#a82d6a"},{"p":4,"t":45,"c":"#8c2f68"},{"p":4,"t":42.5,"c":"#742e62"},{"p":4,"t":40,"c":"#5e2a5c"},{"p":4,"t":37.5,"c":"#4e2758"},{"p":4,"t":35,"c":"#3e2558"},{"p":4,"t":32.5,"c":"#332560"},{"p":4,"t":30,"c":"#2a2364"},{"p":4,"t":27.5,"c":"#28226a"},{"p":4,"t":25,"c":"#26226c"},
{"p":5,"t":70,"c":"#e0382a"},{"p":5,"t":67.5,"c":"#e0602a"},{"p":5,"t":65,"c":"#de7a2c"},{"p":5,"t":62.5,"c":"#d8502c"},{"p":5,"t":60,"c":"#b83a2c"},{"p":5,"t":57.5,"c":"#7c2a24"},{"p":5,"t":55,"c":"#3c2020"},
{"p":6,"t":72.5,"c":"#e09030"},{"p":6,"t":70,"c":"#e08c2c"},{"p":6,"t":67.5,"c":"#e0802c"},{"p":6,"t":65,"c":"#c84c2c"},{"p":6,"t":62.5,"c":"#a03028"},{"p":6,"t":60,"c":"#6c2420"},{"p":6,"t":57.5,"c":"#2a1a1a"},
{"p":7,"t":70,"c":"#e0a030"},{"p":7,"t":67.5,"c":"#d8a832"},{"p":7,"t":65,"c":"#d06a2c"},{"p":7,"t":62.5,"c":"#a8352c"},{"p":7,"t":60,"c":"#3e1a18"},
{"p":8,"t":70,"c":"#dc6030"},{"p":8,"t":67.5,"c":"#d4d82e"},{"p":8,"t":65,"c":"#c8802e"},{"p":8,"t":62.5,"c":"#b8352c"},{"p":8,"t":60,"c":"#6e2520"},{"p":8,"t":57.5,"c":"#261a18"},
{"p":9,"t":70,"c":"#dc4a30"},{"p":9,"t":67.5,"c":"#d0d82c"},{"p":9,"t":65,"c":"#d0a02e"},{"p":9,"t":62.5,"c":"#c0372c"},{"p":9,"t":60,"c":"#7c2822"},{"p":9,"t":57.5,"c":"#2e1c1a"}]},
"encoding":{"x":{"field":"p","type":"quantitative","scale":{"domain":[2.5,9.5],"range":[35.3,245.3],"nice":false,"zero":false},"axis":{"orient":"bottom","offset":-21.7,"title":"pH","titleFontSize":6.5,"titlePadding":2,"labelFontSize":6.5,"labelColor":"#444","tickSize":2,"domain":false,"format":".1f","values":[3,4,5,6,7,8,9]}},"y":{"field":"t","type":"quantitative","scale":{"domain":[23.75,91.25],"range":[1124.3,914.3],"nice":false,"zero":false},"axis":{"orient":"left","offset":-35.3,"title":"Temperature(C)","titleFontSize":6.5,"titlePadding":2,"labelFontSize":6.5,"labelColor":"#444","tickSize":2,"domain":false,"format":".1f","values":[25,30,35,40,45,50,55,60,65,70,75,80,85,90]}}},
"layer":[
{"data":{"values":[{"p":4.5,"p2":9.5,"t":23.75,"t2":71.25,"c":"#161616"},{"p":4.5,"p2":5.5,"t":23.75,"t2":53.75,"c":"#1e1e26"},{"p":4.5,"p2":9.5,"t":71.25,"t2":91.25,"c":"#df342c"}]},"mark":{"type":"rect"},"encoding":{"x2":{"field":"p2"},"y2":{"field":"t2"},"color":{"field":"c","type":"nominal","scale":null}}},
{"mark":{"type":"rect","width":30.4,"height":8.1},"encoding":{"color":{"field":"c","type":"nominal","scale":null}}},
{"data":{"values":[{"p":4.5,"p2":4.5,"t":23.75,"t2":91.25},{"p":5.5,"p2":5.5,"t":23.75,"t2":73.75},{"p":4.5,"p2":5.5,"t":68.75,"t2":68.75},{"p":4.5,"p2":5.5,"t":53.75,"t2":53.75},{"p":5.5,"p2":6.5,"t":73.75,"t2":73.75},{"p":6.5,"p2":6.5,"t":71.25,"t2":73.75},{"p":6.5,"p2":8.5,"t":71.25,"t2":71.25},{"p":8.5,"p2":8.5,"t":68.75,"t2":71.25},{"p":8.5,"p2":9.5,"t":68.75,"t2":68.75},{"p":5.5,"p2":6.5,"t":58.75,"t2":58.75},{"p":6.5,"p2":6.5,"t":58.75,"t2":61.25},{"p":6.5,"p2":7.5,"t":61.25,"t2":61.25},{"p":7.5,"p2":7.5,"t":58.75,"t2":61.25},{"p":7.5,"p2":9.5,"t":58.75,"t2":58.75}]},"mark":{"type":"rule","stroke":"#eee","strokeWidth":0.8,"strokeDash":[3,2]},"encoding":{"x2":{"field":"p2"},"y2":{"field":"t2"}}},
{"data":{"values":[{"p":3.53,"t":59.9,"s":"III"},{"p":7.27,"t":81,"s":"V"},{"p":7.08,"t":63.7,"s":"IV"},{"p":5.02,"t":40.3,"s":"II"},{"p":7.57,"t":40.3,"s":"I"}]},"mark":{"type":"text","font":"Liberation Serif","fontWeight":"bold","fontSize":25,"color":"white"},"encoding":{"text":{"field":"s"}}},
{"data":{"values":[{"p":1.75,"t":96.9,"s":"d"}]},"mark":{"type":"text","font":"Liberation Sans","fontWeight":"bold","fontSize":19,"color":"#111","baseline":"alphabetic"},"encoding":{"text":{"field":"s"}}}]},
{"data":{"values":[
{"p":3,"t":90,"c":"#e5332c"},{"p":3,"t":87.5,"c":"#e2332c"},{"p":3,"t":85,"c":"#df332c"},{"p":3,"t":82.5,"c":"#dc332c"},{"p":3,"t":80,"c":"#dc332c"},{"p":3,"t":77.5,"c":"#e2332c"},{"p":3,"t":75,"c":"#e8332c"},{"p":3,"t":72.5,"c":"#e8322d"},{"p":3,"t":70,"c":"#e8322d"},{"p":3,"t":67.5,"c":"#e8322d"},{"p":3,"t":65,"c":"#e8322d"},{"p":3,"t":62.5,"c":"#e8322d"},{"p":3,"t":60,"c":"#e83032"},{"p":3,"t":57.5,"c":"#e7323e"},{"p":3,"t":55,"c":"#e83055"},{"p":3,"t":52.5,"c":"#e02c6a"},{"p":3,"t":50,"c":"#d82a80"},{"p":3,"t":47.5,"c":"#d02a8c"},{"p":3,"t":45,"c":"#c82e90"},{"p":3,"t":42.5,"c":"#bd3292"},{"p":3,"t":40,"c":"#b03592"},{"p":3,"t":37.5,"c":"#a53a90"},{"p":3,"t":35,"c":"#9c3e90"},{"p":3,"t":32.5,"c":"#924290"},{"p":3,"t":30,"c":"#8c4590"},{"p":3,"t":27.5,"c":"#884892"},{"p":3,"t":25,"c":"#844a96"},
{"p":4,"t":90,"c":"#c0332c"},{"p":4,"t":87.5,"c":"#bd332c"},{"p":4,"t":85,"c":"#bb332c"},{"p":4,"t":82.5,"c":"#c0342c"},{"p":4,"t":80,"c":"#c5342c"},{"p":4,"t":77.5,"c":"#cb342c"},{"p":4,"t":75,"c":"#d0342c"},{"p":4,"t":72.5,"c":"#d2332c"},{"p":4,"t":70,"c":"#d4332c"},{"p":4,"t":67.5,"c":"#d4332c"},{"p":4,"t":65,"c":"#d2332e"},{"p":4,"t":62.5,"c":"#ca3236"},{"p":4,"t":60,"c":"#c53042"},{"p":4,"t":57.5,"c":"#c5324c"},{"p":4,"t":55,"c":"#bf3058"},{"p":4,"t":52.5,"c":"#b82f60"},{"p":4,"t":50,"c":"#b02e66"},{"p":4,"t":47.5,"c":"#a82d6a"},{"p":4,"t":45,"c":"#9a2c6a"},{"p":4,"t":42.5,"c":"#7f2c66"},{"p":4,"t":40,"c":"#5e2a5c"},{"p":4,"t":37.5,"c":"#442654"},{"p":4,"t":35,"c":"#302456"},{"p":4,"t":32.5,"c":"#2e2560"},{"p":4,"t":30,"c":"#2c2464"},{"p":4,"t":27.5,"c":"#2a2468"},{"p":4,"t":25,"c":"#2a246c"},
{"p":5,"t":70,"c":"#dc332c"},{"p":5,"t":67.5,"c":"#d85030"},{"p":5,"t":65,"c":"#dcd82a"},{"p":5,"t":62.5,"c":"#c8882c"},{"p":5,"t":60,"c":"#a8322c"},{"p":5,"t":57.5,"c":"#6a2020"},{"p":5,"t":55,"c":"#261614"},
{"p":6,"t":70,"c":"#d8a030"},{"p":6,"t":67.5,"c":"#d8dc2c"},{"p":6,"t":65,"c":"#d0502e"},{"p":6,"t":62.5,"c":"#a8402c"},{"p":6,"t":60,"c":"#4c2018"},{"p":6,"t":57.5,"c":"#1d1a16"},
{"p":7,"t":70,"c":"#d8b030"},{"p":7,"t":67.5,"c":"#d4e02c"},{"p":7,"t":65,"c":"#d0602e"},{"p":7,"t":62.5,"c":"#a8352c"},{"p":7,"t":60,"c":"#381c18"},
{"p":8,"t":70,"c":"#dc5030"},{"p":8,"t":67.5,"c":"#d0dc2c"},{"p":8,"t":65,"c":"#c8802e"},{"p":8,"t":62.5,"c":"#9e302a"},{"p":8,"t":60,"c":"#4a2018"},
{"p":9,"t":70,"c":"#d2332c"},{"p":9,"t":67.5,"c":"#c89a30"},{"p":9,"t":65,"c":"#b8502c"},{"p":9,"t":62.5,"c":"#94302a"},{"p":9,"t":60,"c":"#4a201a"}]},
"encoding":{"x":{"field":"p","type":"quantitative","scale":{"domain":[2.5,9.5],"range":[421,631.3],"nice":false,"zero":false},"axis":{"orient":"bottom","offset":-18.7,"title":"pH","titleFontSize":6.5,"titlePadding":2,"labelFontSize":6.5,"labelColor":"#444","tickSize":2,"domain":false,"format":".1f","values":[3,4,5,6,7,8,9]}},"y":{"field":"t","type":"quantitative","scale":{"domain":[23.75,91.25],"range":[1127.3,917.3],"nice":false,"zero":false},"axis":{"orient":"left","offset":-421,"title":"Temperature(C)","titleFontSize":6.5,"titlePadding":2,"labelFontSize":6.5,"labelColor":"#444","tickSize":2,"domain":false,"format":".1f","values":[25,30,35,40,45,50,55,60,65,70,75,80,85,90]}}},
"layer":[
{"data":{"values":[{"p":4.5,"p2":9.5,"t":23.75,"t2":71.25,"c":"#181818"},{"p":4.5,"p2":5.5,"t":23.75,"t2":53.75,"c":"#20202a"},{"p":4.5,"p2":8.5,"t":71.25,"t2":91.25,"c":"#dc332c"},{"p":8.5,"p2":9.5,"t":71.25,"t2":78.75,"c":"#d0332c"},{"p":8.5,"p2":9.5,"t":78.75,"t2":91.25,"c":"#b8332c"}]},"mark":{"type":"rect"},"encoding":{"x2":{"field":"p2"},"y2":{"field":"t2"},"color":{"field":"c","type":"nominal","scale":null}}},
{"mark":{"type":"rect","width":30.4,"height":8.1},"encoding":{"color":{"field":"c","type":"nominal","scale":null}}},
{"data":{"values":[{"p":4.5,"p2":4.5,"t":23.75,"t2":91.25},{"p":5.5,"p2":5.5,"t":23.75,"t2":71.25},{"p":4.5,"p2":5.5,"t":68.75,"t2":68.75},{"p":4.5,"p2":5.5,"t":53.75,"t2":53.75},{"p":5.5,"p2":8.5,"t":71.25,"t2":71.25},{"p":8.5,"p2":8.5,"t":68.75,"t2":71.25},{"p":8.5,"p2":9.5,"t":68.75,"t2":68.75},{"p":5.5,"p2":6.5,"t":58.75,"t2":58.75},{"p":6.5,"p2":6.5,"t":58.75,"t2":61.25},{"p":6.5,"p2":7.5,"t":61.25,"t2":61.25},{"p":7.5,"p2":7.5,"t":58.75,"t2":61.25},{"p":7.5,"p2":9.5,"t":58.75,"t2":58.75}]},"mark":{"type":"rule","stroke":"#eee","strokeWidth":0.8,"strokeDash":[3,2]},"encoding":{"x2":{"field":"p2"},"y2":{"field":"t2"}}},
{"data":{"values":[{"p":3.37,"t":60.9,"s":"III"},{"p":7.1,"t":82,"s":"V"},{"p":6.9,"t":63.6,"s":"IV"},{"p":4.87,"t":41.3,"s":"II"},{"p":7.4,"t":41.3,"s":"I"}]},"mark":{"type":"text","font":"Liberation Serif","fontWeight":"bold","fontSize":25,"color":"white"},"encoding":{"text":{"field":"s"}}}]},
{"data":{"values":[{"p":2.5,"p2":9.5,"t":23.75,"t2":91.25,"c":"#141414"},{"p":2.5,"p2":3.5,"t":31,"t2":91.25,"c":"#e0352c"},{"p":2.5,"p2":3.5,"t":23.75,"t2":31,"c":"#a82a24"},{"p":3.5,"p2":4.5,"t":49,"t2":91.25,"c":"#e0352c"},{"p":3.5,"p2":4.5,"t":40,"t2":49,"c":"#902820"},{"p":3.5,"p2":4.5,"t":23.75,"t2":40,"c":"#2a1614"},{"p":4.5,"p2":9.5,"t":61,"t2":91.25,"c":"#e0352c"},{"p":4.5,"p2":5.5,"t":56,"t2":61,"c":"#501c18"}]},
"encoding":{"x":{"field":"p","type":"quantitative","scale":{"domain":[2.5,9.5],"range":[258.3,322],"nice":false,"zero":false},"axis":{"orient":"bottom","offset":-167.7,"title":"Intrinsic PP","titleFontSize":5.5,"titlePadding":3,"labels":false,"ticks":false,"domain":false}},"y":{"field":"t","type":"quantitative","scale":{"domain":[23.75,91.25],"range":[978.3,914.3],"nice":false,"zero":false},"axis":null},"x2":{"field":"p2"},"y2":{"field":"t2"},"color":{"field":"c","type":"nominal","scale":null},"stroke":{"field":"c","type":"nominal","scale":null}},"mark":{"type":"rect","strokeWidth":0.5}},
{"data":{"values":[{"p":2.5,"p2":9.5,"t":23.75,"t2":91.25,"c":"#141414"},{"p":3.5,"p2":4.5,"t":48.8,"t2":55.2,"c":"#1e3a22"},{"p":4.5,"p2":5.5,"t":60.5,"t2":69.3,"c":"#2e6a35"},{"p":5.5,"p2":6.5,"t":66.5,"t2":73.6,"c":"#18a050"},{"p":6.5,"p2":7.5,"t":66.5,"t2":72.2,"c":"#20b050"},{"p":7.5,"p2":8.5,"t":64.4,"t2":70,"c":"#38c040"},{"p":8.5,"p2":9.5,"t":64.4,"t2":69.3,"c":"#30c040"}]},
"encoding":{"x":{"field":"p","type":"quantitative","scale":{"domain":[2.5,9.5],"range":[258.3,322],"nice":false,"zero":false},"axis":{"orient":"bottom","offset":-94.7,"title":"DSC","titleFontSize":5.5,"titlePadding":3,"labels":false,"ticks":false,"domain":false}},"y":{"field":"t","type":"quantitative","scale":{"domain":[23.75,91.25],"range":[1051.3,987.7],"nice":false,"zero":false},"axis":null},"x2":{"field":"p2"},"y2":{"field":"t2"},"color":{"field":"c","type":"nominal","scale":null},"stroke":{"field":"c","type":"nominal","scale":null}},"mark":{"type":"rect","strokeWidth":0.5}},
{"data":{"values":[{"p":2.5,"p2":9.5,"t":23.75,"t2":91.25,"c":"#161618"},{"p":2.5,"p2":3.5,"t":23.75,"t2":51,"c":"#3c3ca0"},{"p":2.5,"p2":3.5,"t":51,"t2":68,"c":"#24244e"},{"p":3.5,"p2":4.5,"t":23.75,"t2":58,"c":"#24246a"},{"p":3.5,"p2":4.5,"t":58,"t2":68,"c":"#1c1c38"},{"p":4.5,"p2":5.5,"t":23.75,"t2":65,"c":"#1c1c2a"}]},
"encoding":{"x":{"field":"p","type":"quantitative","scale":{"domain":[2.5,9.5],"range":[258.3,322],"nice":false,"zero":false},"axis":{"orient":"bottom","offset":-21.7,"title":"Extrinsic PI","titleFontSize":5.5,"titlePadding":3,"labels":false,"ticks":false,"domain":false}},"y":{"field":"t","type":"quantitative","scale":{"domain":[23.75,91.25],"range":[1124.3,1060.3],"nice":false,"zero":false},"axis":null},"x2":{"field":"p2"},"y2":{"field":"t2"},"color":{"field":"c","type":"nominal","scale":null},"stroke":{"field":"c","type":"nominal","scale":null}},"mark":{"type":"rect","strokeWidth":0.5}},
{"data":{"values":[{"p":2.5,"p2":9.5,"t":23.75,"t2":91.25,"c":"#141414"},{"p":2.5,"p2":3.5,"t":33,"t2":91.25,"c":"#e0352c"},{"p":2.5,"p2":3.5,"t":23.75,"t2":33,"c":"#a82a24"},{"p":3.5,"p2":4.5,"t":42.5,"t2":91.25,"c":"#c8332c"},{"p":3.5,"p2":4.5,"t":37,"t2":42.5,"c":"#702420"},{"p":4.5,"p2":9.5,"t":60.2,"t2":91.25,"c":"#de352c"},{"p":8.5,"p2":9.5,"t":75,"t2":91.25,"c":"#c0332c"}]},
"encoding":{"x":{"field":"p","type":"quantitative","scale":{"domain":[2.5,9.5],"range":[644.3,708],"nice":false,"zero":false},"axis":{"orient":"bottom","offset":-164.7,"title":"IntrinsicPP","titleFontSize":5.5,"titlePadding":3,"labels":false,"ticks":false,"domain":false}},"y":{"field":"t","type":"quantitative","scale":{"domain":[23.75,91.25],"range":[981.3,917.3],"nice":false,"zero":false},"axis":null},"x2":{"field":"p2"},"y2":{"field":"t2"},"color":{"field":"c","type":"nominal","scale":null},"stroke":{"field":"c","type":"nominal","scale":null}},"mark":{"type":"rect","strokeWidth":0.5}},
{"data":{"values":[{"p":2.5,"p2":9.5,"t":23.75,"t2":91.25,"c":"#181c18"},{"p":3.5,"p2":4.5,"t":43,"t2":50,"c":"#1e3a22"},{"p":4.5,"p2":5.5,"t":61.6,"t2":66.9,"c":"#20a040"},{"p":5.5,"p2":6.5,"t":65.8,"t2":71.5,"c":"#20b040"},{"p":6.5,"p2":7.5,"t":66.9,"t2":71.5,"c":"#20c040"},{"p":7.5,"p2":8.5,"t":65.8,"t2":70.5,"c":"#28b040"},{"p":8.5,"p2":9.5,"t":66.9,"t2":69.5,"c":"#20a030"}]},
"encoding":{"x":{"field":"p","type":"quantitative","scale":{"domain":[2.5,9.5],"range":[644.3,708],"nice":false,"zero":false},"axis":{"orient":"bottom","offset":-92,"title":"DSC","titleFontSize":5.5,"titlePadding":3,"labels":false,"ticks":false,"domain":false}},"y":{"field":"t","type":"quantitative","scale":{"domain":[23.75,91.25],"range":[1054,990.3],"nice":false,"zero":false},"axis":null},"x2":{"field":"p2"},"y2":{"field":"t2"},"color":{"field":"c","type":"nominal","scale":null},"stroke":{"field":"c","type":"nominal","scale":null}},"mark":{"type":"rect","strokeWidth":0.5}},
{"data":{"values":[{"p":2.5,"p2":9.5,"t":23.75,"t2":91.25,"c":"#161618"},{"p":2.5,"p2":3.5,"t":23.75,"t2":43.8,"c":"#4040b0"},{"p":2.5,"p2":3.5,"t":43.8,"t2":61.4,"c":"#24245a"},{"p":2.5,"p2":3.5,"t":61.4,"t2":91.25,"c":"#1e1c28"},{"p":3.5,"p2":4.5,"t":23.75,"t2":50.8,"c":"#24246a"},{"p":3.5,"p2":4.5,"t":50.8,"t2":68.4,"c":"#1c1c3c"},{"p":3.5,"p2":4.5,"t":68.4,"t2":91.25,"c":"#1e1c28"},{"p":4.5,"p2":5.5,"t":23.75,"t2":68,"c":"#1c1c24"}]},
"encoding":{"x":{"field":"p","type":"quantitative","scale":{"domain":[2.5,9.5],"range":[644.3,708],"nice":false,"zero":false},"axis":{"orient":"bottom","offset":-18.7,"title":"ExtrinsicINT","titleFontSize":5.5,"titlePadding":3,"labels":false,"ticks":false,"domain":false}},"y":{"field":"t","type":"quantitative","scale":{"domain":[23.75,91.25],"range":[1127.3,1063.3],"nice":false,"zero":false},"axis":null},"x2":{"field":"p2"},"y2":{"field":"t2"},"color":{"field":"c","type":"nominal","scale":null},"stroke":{"field":"c","type":"nominal","scale":null}},"mark":{"type":"rect","strokeWidth":0.5}}
]}
